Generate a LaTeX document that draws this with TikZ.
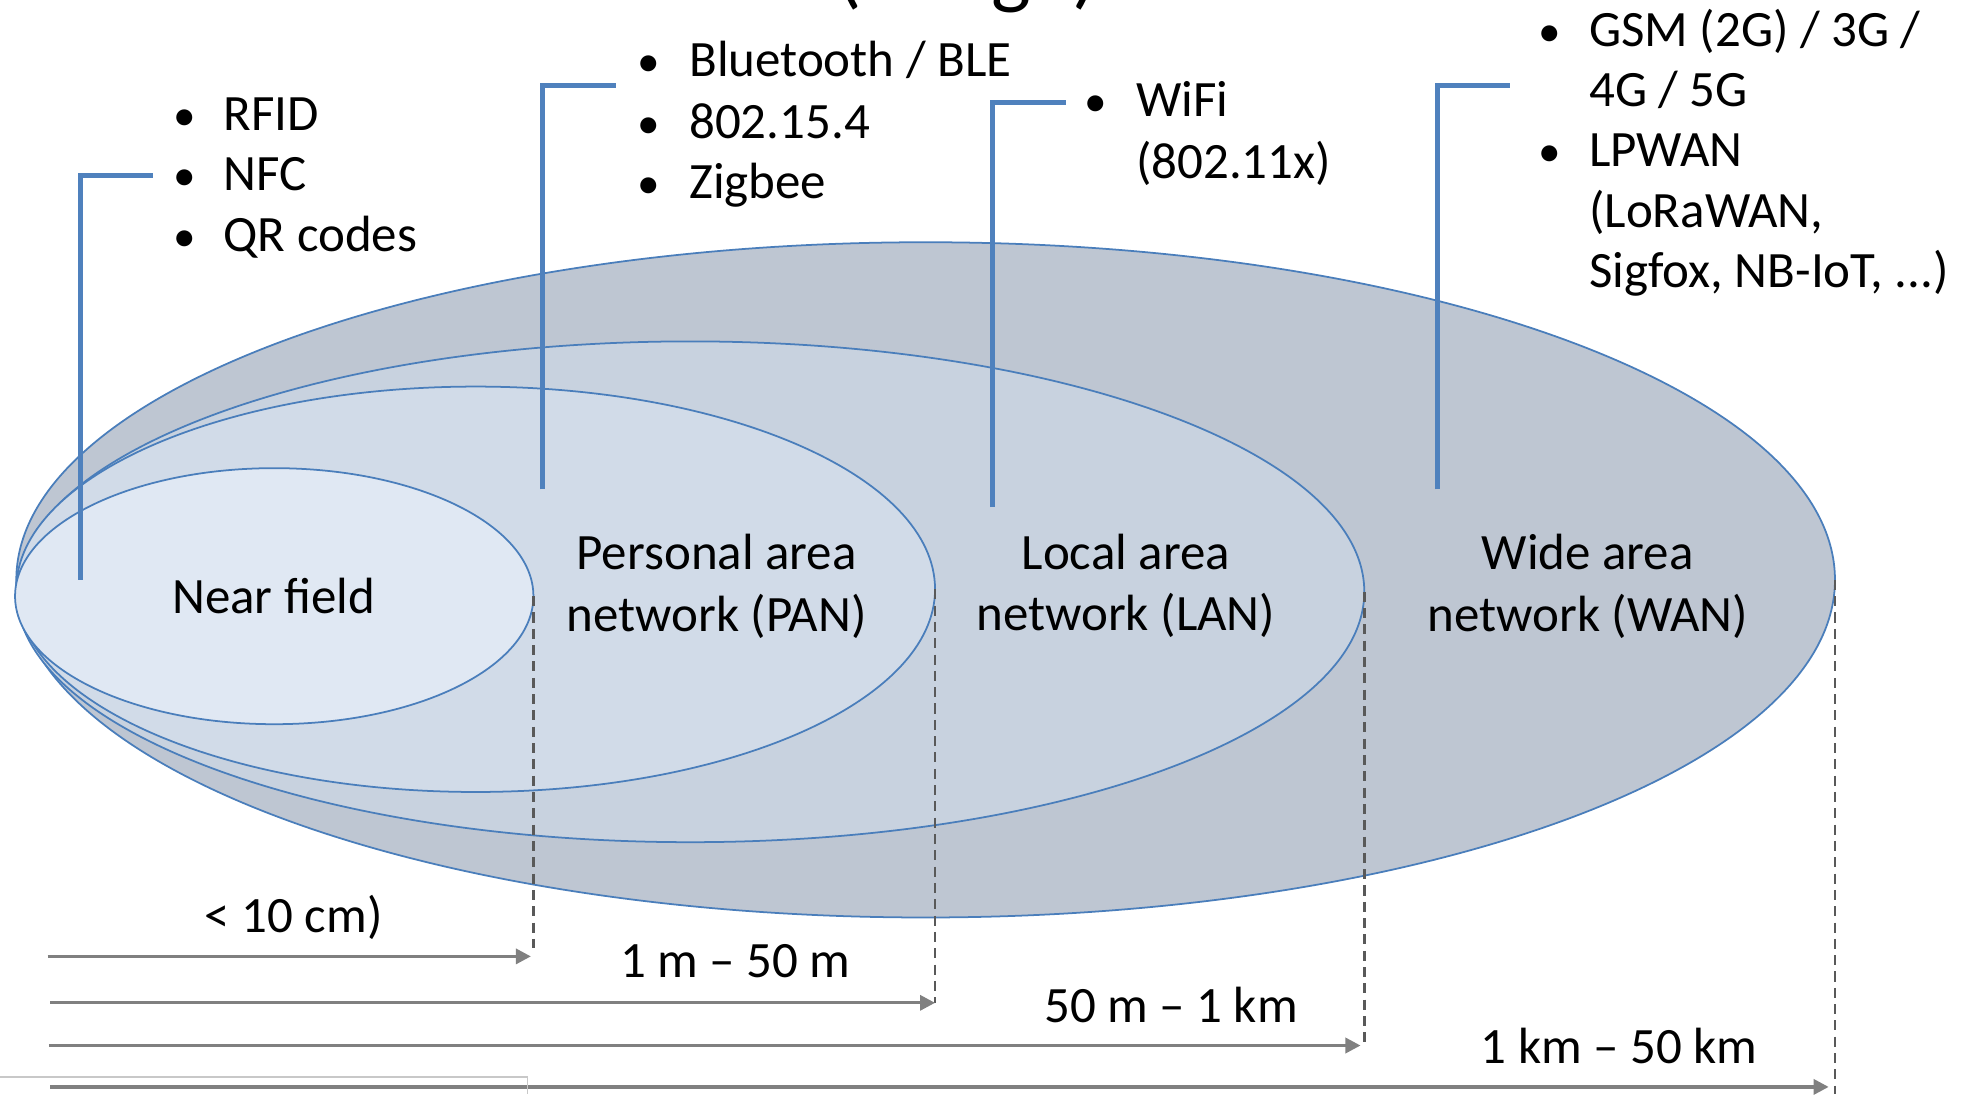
\documentclass[tikz,border=0pt]{standalone}
\usepackage{fontspec}
\setmainfont{Carlito}
\usetikzlibrary{arrows.meta,shapes.geometric}
\definecolor{edgeblue}{HTML}{4A7EBB}
\definecolor{brkblue}{HTML}{4F81BD}
\definecolor{fillnf}{HTML}{E0E8F3}
\definecolor{fillpan}{HTML}{D1DBE8}
\definecolor{filllan}{HTML}{C8D2DF}
\definecolor{fillwan}{HTML}{BEC6D2}
\definecolor{arrgray}{HTML}{808080}
\definecolor{dashgray}{HTML}{595959}
\definecolor{faintgray}{HTML}{C8C8C8}
\begin{document}
\begin{tikzpicture}[x=1pt,y=-1pt,
  ell/.style={ellipse, draw=edgeblue, line width=1.4pt, inner sep=0pt, outer sep=0pt},
  txt/.style={font=\fontsize{40.6}{48.5}\selectfont, inner sep=0pt, text=black},
  lbl/.style={txt, anchor=base},
  item/.style={txt, anchor=base west},
  bul/.style={font=\fontsize{36}{48.5}\selectfont, inner sep=0pt, text=black, anchor=base},
  brk/.style={draw=brkblue, line width=4pt},
  dsh/.style={draw=dashgray, line width=2pt, dash pattern=on 8pt off 5pt},
  rng/.style={draw=arrgray, line width=2.6pt, -{Triangle[length=12pt,width=12pt]}}]
\useasboundingbox (0,0) rectangle (1568,872);
\clip (0,0) rectangle (1568,872);

% cut-off title
\node[anchor=base west, inner sep=0pt, font=\fontsize{67}{80}\selectfont] (title) at (666,-1) {(Range)};

% ellipses
\node[ell, fill=fillwan, minimum width=1449pt, minimum height=538pt] (wan) at (737.5,462) {};
\node[ell, fill=filllan, minimum width=1074pt, minimum height=399pt] (lan) at (550,471.5) {};
\node[ell, fill=fillpan, minimum width=732pt, minimum height=323pt] (pan) at (379,469.5) {};
\node[ell, fill=fillnf, minimum width=413pt, minimum height=204pt] (nf) at (218.5,475) {};

% ellipse labels
\node[lbl] (nflbl) at (218,489) {Near field};
\node[lbl] (pan1) at (571,454) {Personal area};
\node[lbl] (pan2) at (571,503) {network (PAN)};
\node[lbl] (lan1) at (897,454) {Local area};
\node[lbl] (lan2) at (897,502) {network (LAN)};
\node[lbl] (wan1) at (1265,454) {Wide area};
\node[lbl] (wan2) at (1265,503) {network (WAN)};

% bullet list 1
\node[bul] (b11) at (147,104) {•};
\node[item] (t11) at (178,104) {RFID};
\node[bul] (b12) at (147,152) {•};
\node[item] (t12) at (178,152) {NFC};
\node[bul] (b13) at (147,200) {•};
\node[item] (t13) at (178,200) {QR codes};

% bullet list 2
\node[bul] (b21) at (517,61) {•};
\node[item] (t21) at (549,61) {Bluetooth / BLE};
\node[bul] (b22) at (517,110) {•};
\node[item] (t22) at (549,110) {802.15.4};
\node[bul] (b23) at (517,158) {•};
\node[item] (t23) at (549,158) {Zigbee};

% bullet list 3
\node[bul] (b31) at (873,93) {•};
\node[item] (t31) at (905,93) {WiFi};
\node[item] (t32) at (905,142) {(802.11x)};

% bullet list 4
\node[bul] (b41) at (1235,37) {•};
\node[item] (t41) at (1266,37) {GSM (2G) / 3G /};
\node[item] (t42) at (1266,85) {4G / 5G};
\node[bul] (b43) at (1235,133) {•};
\node[item] (t43) at (1266,133) {LPWAN};
\node[item] (t44) at (1266,181) {(LoRaWAN,};
\node[item] (t45) at (1266,229) {Sigfox, NB-IoT, ...)};

% bracket leaders
\coordinate (k1a) at (64,462);  \coordinate (k1b) at (122,140);
\coordinate (k2a) at (432,390); \coordinate (k2b) at (491,68);
\coordinate (k3a) at (791,404); \coordinate (k3b) at (849,82);
\coordinate (k4a) at (1145,390); \coordinate (k4b) at (1203,68);
\draw[brk] (k1a) |- (k1b);
\draw[brk] (k2a) |- (k2b);
\draw[brk] (k3a) |- (k3b);
\draw[brk] (k4a) |- (k4b);

% dashed drop lines
\coordinate (d1) at (425,755);
\coordinate (d2) at (745,799);
\coordinate (d3) at (1087,834);
\coordinate (d4) at (1462,872);
\draw[dsh] (nf.east) -- (d1);
\draw[dsh] (pan.east) -- (d2);
\draw[dsh] (lan.east) -- (d3);
\draw[dsh] (wan.east) -- (d4);

% range arrows
\coordinate (a1s) at (38,762);  \coordinate (a1e) at (423,762);
\coordinate (a2s) at (40,799);  \coordinate (a2e) at (745,799);
\coordinate (a3s) at (39,833);  \coordinate (a3e) at (1084,833);
\coordinate (a4s) at (40,866);  \coordinate (a4e) at (1457,866);
\draw[rng] (a1s) -- (a1e);
\draw[rng] (a2s) -- (a2e);
\draw[rng] (a3s) -- (a3e);
\draw[rng] (a4s) -- (a4e);

% range labels
\node[lbl] (r1) at (234,743) {< 10 cm)};
\node[lbl] (r2) at (586,779) {1 m – 50 m};
\node[lbl] (r3) at (933,815) {50 m – 1 km};
\node[lbl] (r4) at (1290,847) {1 km – 50 km};

% faint stray line at bottom left
\coordinate (g1) at (0,858); \coordinate (g2) at (420,858); \coordinate (g3) at (420,872);
\draw[draw=faintgray, line width=1pt] (g1) -- (g2) -- (g3);
\end{tikzpicture}
\end{document}
